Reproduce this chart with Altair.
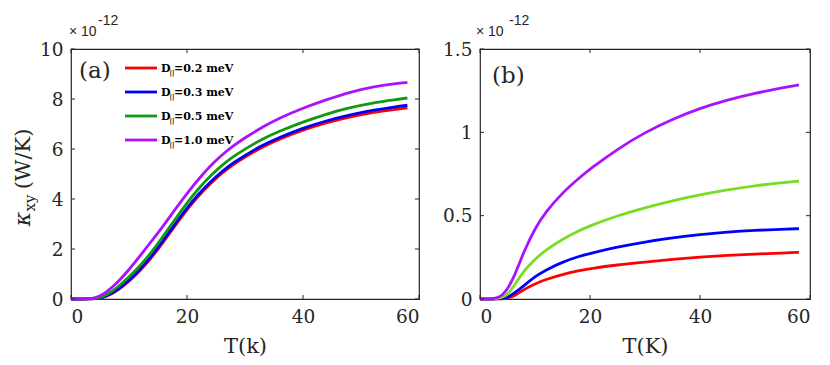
import altair as alt
import pandas as pd

# ---------------- data (values in units of 1e-12 W/K) ----------------
T_a = [0, 2, 3, 4, 5, 6, 8, 10, 12, 14, 16, 18, 20, 22, 24, 26, 28, 30, 33, 36, 40, 44, 48, 52, 56, 58]
a_d02 = [0, 0, 0, 0.01, 0.03, 0.09, 0.33, 0.70, 1.15, 1.68, 2.30, 2.95, 3.58, 4.13, 4.61, 5.03, 5.38, 5.68, 6.08, 6.40, 6.76, 7.05, 7.28, 7.47, 7.59, 7.64]
a_d03 = [0, 0, 0, 0.01, 0.04, 0.10, 0.36, 0.74, 1.20, 1.74, 2.37, 3.02, 3.65, 4.20, 4.68, 5.10, 5.45, 5.75, 6.15, 6.47, 6.84, 7.13, 7.36, 7.55, 7.69, 7.75]
a_d05 = [0, 0, 0, 0.02, 0.06, 0.14, 0.45, 0.88, 1.35, 1.90, 2.55, 3.20, 3.85, 4.42, 4.92, 5.35, 5.70, 6.00, 6.40, 6.72, 7.08, 7.40, 7.65, 7.85, 7.98, 8.04]
a_d10 = [0, 0, 0.01, 0.03, 0.12, 0.25, 0.65, 1.17, 1.75, 2.35, 2.95, 3.60, 4.22, 4.80, 5.32, 5.76, 6.13, 6.45, 6.88, 7.24, 7.64, 7.97, 8.27, 8.49, 8.62, 8.66]

T_b = [0, 2, 3, 4, 5, 6, 7, 8, 10, 12, 15, 18, 20, 25, 30, 35, 40, 45, 50, 55, 58]
b_red = [0, 0, 0, 0.001, 0.004, 0.015, 0.035, 0.057, 0.092, 0.118, 0.148, 0.170, 0.182, 0.205, 0.222, 0.238, 0.251, 0.262, 0.270, 0.276, 0.280]
b_blue = [0, 0, 0, 0.003, 0.008, 0.030, 0.055, 0.080, 0.135, 0.175, 0.222, 0.256, 0.274, 0.312, 0.343, 0.367, 0.387, 0.402, 0.412, 0.419, 0.422]
b_green = [0, 0, 0.002, 0.010, 0.025, 0.070, 0.120, 0.170, 0.240, 0.295, 0.360, 0.410, 0.440, 0.500, 0.548, 0.590, 0.625, 0.655, 0.680, 0.698, 0.707]
b_purple = [0, 0, 0.005, 0.020, 0.060, 0.120, 0.200, 0.285, 0.425, 0.525, 0.638, 0.725, 0.780, 0.900, 1.000, 1.080, 1.145, 1.195, 1.235, 1.267, 1.285]

series_a = ["0.2", "0.3", "0.5", "1.0"]
colors_a = ["#ff0000", "#0000ff", "#119911", "#aa11ff"]
series_b = ["red", "blue", "green", "purple"]
colors_b = ["#ff0000", "#0000ff", "#77dd22", "#aa11ff"]

x_ticks = [0, 20, 40, 60]
ya_ticks = [0, 2, 4, 6, 8, 10]
yb_ticks = [0, 0.5, 1, 1.5]

# ---------------- tables ----------------
rows = []
for s, vals in zip(series_a, [a_d02, a_d03, a_d05, a_d10]):
    for t, v in zip(T_a, vals):
        rows.append({"T": t, "k": v, "s": s})
df_a = pd.DataFrame(rows)
rows = []
for s, vals in zip(series_b, [b_red, b_blue, b_green, b_purple]):
    for t, v in zip(T_b, vals):
        rows.append({"T": t, "k": v, "s": s})
df_b = pd.DataFrame(rows)

W_A, W_B, H = 348, 330, 250
FRAME = "#262626"
TL = 4  # tick length
one = pd.DataFrame({"d": [0]})


def ticks(values, axis, w, h):
    d = pd.DataFrame({"v": values})
    base = alt.Chart(d).mark_rule(color=FRAME, strokeWidth=1)
    if axis == "x":
        b = base.encode(x=alt.X("v:Q"), y=alt.value(h), y2=alt.value(h - TL))
        t = base.encode(x=alt.X("v:Q"), y=alt.value(0), y2=alt.value(TL))
    else:
        b = base.encode(y=alt.Y("v:Q"), x=alt.value(0), x2=alt.value(TL))
        t = base.encode(y=alt.Y("v:Q"), x=alt.value(w), x2=alt.value(w - TL))
    return [b, t]


def text(s, x, y, size, font="DejaVu Serif", weight="normal", angle=0, align="left",
         baseline="alphabetic", color=FRAME, style="normal"):
    kw = dict(fontSize=size, font=font, fontWeight=weight, align=align, baseline=baseline,
              color=color, fontStyle=style)
    if angle:
        kw["angle"] = angle
    return alt.Chart(one).mark_text(**kw).encode(x=alt.value(x), y=alt.value(y), text=alt.value(s))


# ---------------- panel (a) ----------------
xa = alt.X("T:Q", scale=alt.Scale(domain=[0, 60], nice=False),
           axis=alt.Axis(values=x_ticks, title="T(k)", grid=False))
ya = alt.Y("k:Q", scale=alt.Scale(domain=[0, 10], nice=False),
           axis=alt.Axis(values=ya_ticks, title=None, grid=False))
lines_a = alt.Chart(df_a).mark_line(strokeWidth=2.8, interpolate="basis").encode(
    x=xa, y=ya,
    color=alt.Color("s:N", scale=alt.Scale(domain=series_a, range=colors_a), legend=None),
)
layers_a = [lines_a] + ticks(x_ticks, "x", W_A, H) + ticks(ya_ticks, "y", W_A, H)

# legend
leg_y = [19, 43, 67, 91]
for s, c, yy in zip(series_a, colors_a, leg_y):
    layers_a.append(alt.Chart(one).mark_rule(color=c, strokeWidth=2.8).encode(
        x=alt.value(54), x2=alt.value(86), y=alt.value(yy)))
    layers_a.append(text("D", 90, yy + 4, 11, weight="bold", color="black"))
    layers_a.append(text("||", 98.5, yy + 7, 7, weight="bold", color="black"))
    layers_a.append(text("=" + s + " meV", 103, yy + 4, 11, weight="bold", color="black"))

layers_a.append(text("(a)", 8, 29, 23))
layers_a.append(text("× 10", -2, -13, 14, font="Liberation Sans"))
layers_a.append(text("-12", 27, -24, 14, font="Liberation Sans"))
layers_a.append(text("(W/K)", -41, 110, 21, angle=270, align="center"))
layers_a.append(text("xy", -36, 154, 15, angle=270, align="center"))
layers_a.append(text("κ", -41, 170, 22, angle=270, align="center", style="italic"))

panel_a = alt.layer(*layers_a).properties(width=W_A, height=H)

# ---------------- panel (b) ----------------
xb = alt.X("T:Q", scale=alt.Scale(domain=[0, 60], nice=False),
           axis=alt.Axis(values=x_ticks, title="T(K)", grid=False))
yb = alt.Y("k:Q", scale=alt.Scale(domain=[0, 1.5], nice=False),
           axis=alt.Axis(values=yb_ticks, title=None, grid=False, labelExpr="'' + datum.value"))
lines_b = alt.Chart(df_b).mark_line(strokeWidth=2.8, interpolate="basis").encode(
    x=xb, y=yb,
    color=alt.Color("s:N", scale=alt.Scale(domain=series_b, range=colors_b), legend=None),
)
layers_b = [lines_b] + ticks(x_ticks, "x", W_B, H) + ticks(yb_ticks, "y", W_B, H)
layers_b.append(text("(b)", 12, 34, 23))
layers_b.append(text("× 10", -4, -13, 14, font="Liberation Sans"))
layers_b.append(text("-12", 29, -24, 14, font="Liberation Sans"))
panel_b = alt.layer(*layers_b).properties(width=W_B, height=H)

chart = alt.hconcat(panel_a, panel_b, spacing=20).resolve_scale(color="independent").properties(
    padding={"left": 3, "top": 5, "right": 5, "bottom": 5}
).configure_view(stroke=FRAME, strokeWidth=1.2).configure_axis(
    domain=False, ticks=False, labelFont="DejaVu Serif", labelFontSize=18.5, labelColor=FRAME,
    labelPadding=8, titleFont="DejaVu Serif", titleFontSize=21, titleFontWeight="normal",
    titleColor=FRAME, titlePadding=10,
)

chart.save("out.html", embed_options={"renderer": "svg", "actions": False})
